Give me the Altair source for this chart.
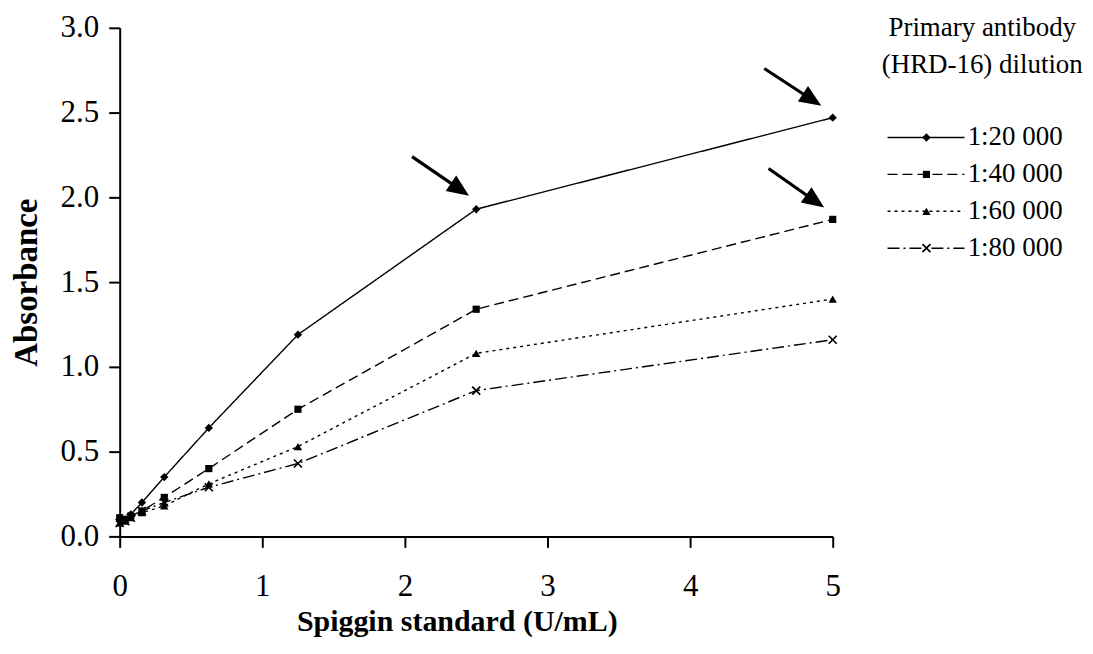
import math
import altair as alt
import pandas as pd

# ---------------- data ----------------
concentration = [0, 0.039, 0.078, 0.156, 0.3125, 0.625, 1.25, 2.5, 5]
series = ["1:20 000", "1:40 000", "1:60 000", "1:80 000"]
abs_20k = [0.09, 0.10, 0.13, 0.20, 0.35, 0.64, 1.19, 1.93, 2.47]
abs_40k = [0.11, 0.10, 0.12, 0.15, 0.23, 0.40, 0.75, 1.34, 1.87]
abs_60k = [0.08, 0.09, 0.11, 0.14, 0.18, 0.31, 0.53, 1.08, 1.40]
abs_80k = [0.08, 0.09, 0.11, 0.15, 0.20, 0.29, 0.43, 0.86, 1.16]

x_ticks = [0, 1, 2, 3, 4, 5]
y_ticks = [0.0, 0.5, 1.0, 1.5, 2.0, 2.5, 3.0]

legend_title = ["Primary antibody", "(HRD-16) dilution"]

# annotation arrows (tail -> tip, data units)
arrow_tail_x = [2.05, 4.52, 4.55]
arrow_tail_y = [2.24, 2.76, 2.17]
arrow_tip_x = [2.45, 4.92, 4.94]
arrow_tip_y = [2.01, 2.54, 1.94]

# ---------------- styles ----------------
W, H = 715, 510
FONT = "Liberation Serif"
dashes = [[1, 0], [10, 5], [3, 4], [12, 4, 2, 4]]
markers = [
    dict(shape="diamond", filled=True, size=70),
    dict(shape="square", filled=True, size=52),
    dict(shape="triangle-up", filled=True, size=70),
    dict(shape="M-1,-1L1,1M-1,1L1,-1", filled=False, size=64, strokeWidth=1.7),
]

values = [abs_20k, abs_40k, abs_60k, abs_80k]
df = pd.DataFrame(
    [
        {"series": s, "conc": c, "abs": v}
        for s, vals in zip(series, values)
        for c, v in zip(concentration, vals)
    ]
)

px_x = W / 5.0
px_y = H / 3.0
arrows = []
for tx, ty, hx, hy in zip(arrow_tail_x, arrow_tail_y, arrow_tip_x, arrow_tip_y):
    ang = math.degrees(math.atan2((ty - hy) * px_y, (hx - tx) * px_x))
    arrows.append(
        {
            "tail_x": tx,
            "tail_y": ty,
            "tip_x": hx,
            "tip_y": hy,
            "end_x": hx - 0.25 * (hx - tx),
            "end_y": hy - 0.25 * (hy - ty),
            "angle": ang,
        }
    )
df_arrows = pd.DataFrame(arrows)

x_scale = alt.Scale(domain=[0, 5], nice=False, zero=False)
y_scale = alt.Scale(domain=[0, 3], nice=False, zero=False)
dash_scale = alt.Scale(domain=series, range=dashes)

axis_common = dict(
    grid=False,
    tickSize=11,
    tickWidth=2,
    tickColor="black",
    domainWidth=2,
    domainColor="black",
    labelFont=FONT,
    labelFontSize=31,
    labelColor="black",
    titleFont=FONT,
    titleFontWeight="bold",
    titleColor="black",
)
x_axis = alt.Axis(
    values=x_ticks,
    format="d",
    title="Spiggin standard (U/mL)",
    labelPadding=24,
    titlePadding=5,
    titleFontSize=30,
    titleX=338,
    labelFlush=False,
    **axis_common,
)
y_axis = alt.Axis(
    values=y_ticks,
    format=".1f",
    title="Absorbance",
    labelPadding=10,
    titlePadding=17,
    titleFontSize=33,
    **axis_common,
)


def X(field):
    return alt.X(f"{field}:Q", scale=x_scale, axis=x_axis)


def Y(field):
    return alt.Y(f"{field}:Q", scale=y_scale, axis=y_axis)


base = alt.Chart(df)
lines = base.mark_line(color="black", strokeWidth=1.4).encode(
    x=X("conc"),
    y=Y("abs"),
    strokeDash=alt.StrokeDash("series:N", scale=dash_scale, legend=None),
)

point_layers = []
for s, m in zip(series, markers):
    kw = dict(m)
    kw.setdefault("strokeWidth", 1)
    point_layers.append(
        base.transform_filter(alt.datum.series == s)
        .mark_point(color="black", opacity=1, **kw)
        .encode(x=X("conc"), y=Y("abs"))
    )

arrow_base = alt.Chart(df_arrows)
arrow_lines = arrow_base.mark_rule(color="black", strokeWidth=3.2).encode(
    x=X("tail_x"), y=Y("tail_y"), x2="end_x", y2="end_y"
)
arrow_heads = arrow_base.mark_point(
    shape="M0,0L-2,-0.85L-2,0.85Z", filled=True, color="black", opacity=1, size=484
).encode(x=X("tip_x"), y=Y("tip_y"), angle=alt.Angle("angle:Q", scale=None))

main = alt.layer(lines, *point_layers, arrow_lines, arrow_heads).properties(
    width=W, height=H
)

# ---------------- legend panel ----------------
LW = 212
LEG_TOP = 26          # top of panels (px)
ROW0 = 136 - LEG_TOP  # first entry, px from panel top
GAP = 37.0
TITLE_PX = [26 - LEG_TOP, 63 - LEG_TOP]
r_top = -ROW0 / GAP
r_bot = (H - ROW0) / GAP
ly_scale = alt.Scale(domain=[r_top, r_bot], reverse=True, nice=False, zero=False)
lx_scale = alt.Scale(domain=[0, 1], nice=False, zero=False)

df_leg = pd.DataFrame({"series": series, "row": list(range(len(series)))})
df_leg_title = pd.DataFrame(
    {"text": legend_title, "row": [(p - ROW0) / GAP for p in TITLE_PX]}
)

LX0, LX1, LXM, LXT, LXC = 0.066, 0.43, 0.25, 0.445, 0.514


def LXe(field):
    return alt.X(f"{field}:Q", scale=lx_scale, axis=None)


def LYe(field):
    return alt.Y(f"{field}:Q", scale=ly_scale, axis=None)


leg_base = alt.Chart(df_leg).transform_calculate(
    x0=str(LX0), x1=str(LX1), xm=str(LXM), xt=str(LXT)
)
leg_lines = leg_base.mark_rule(color="black", strokeWidth=1.4).encode(
    x=LXe("x0"),
    x2="x1:Q",
    y=LYe("row"),
    strokeDash=alt.StrokeDash("series:N", scale=dash_scale, legend=None),
)
leg_points = []
for s, m in zip(series, markers):
    kw = dict(m)
    kw.setdefault("strokeWidth", 1)
    leg_points.append(
        leg_base.transform_filter(alt.datum.series == s)
        .mark_point(color="black", opacity=1, **kw)
        .encode(x=LXe("xm"), y=LYe("row"))
    )
leg_text = leg_base.mark_text(
    align="left", baseline="middle", font=FONT, fontSize=27, color="black"
).encode(x=LXe("xt"), y=LYe("row"), text="series:N")

leg_title = (
    alt.Chart(df_leg_title)
    .transform_calculate(xc=str(LXC))
    .mark_text(align="center", baseline="middle", font=FONT, fontSize=27, color="black")
    .encode(x=LXe("xc"), y=LYe("row"), text="text:N")
)

legend = alt.layer(leg_lines, *leg_points, leg_text, leg_title).properties(
    width=LW, height=H
)

chart = (
    alt.hconcat(main, legend, spacing=41, bounds="flush")
    .configure_view(strokeWidth=0)
    .properties(padding={"left": 2, "top": 3, "right": 0, "bottom": 0}, background="white")
)

chart.save("out.html", embed_options={"renderer": "svg", "actions": False})
